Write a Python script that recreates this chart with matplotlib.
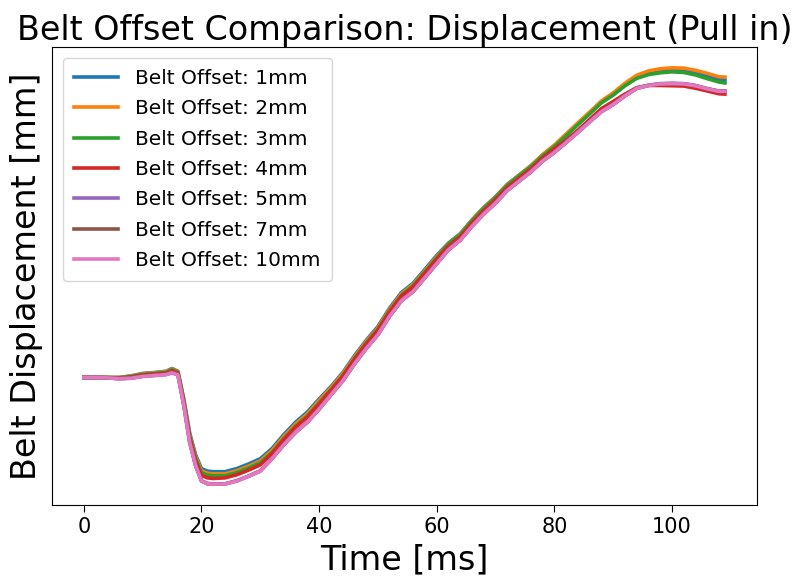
import numpy as np
import matplotlib
matplotlib.use("Agg")
import matplotlib.pyplot as plt

# time samples [ms]
time_ms = [0, 3, 6, 8, 10, 12, 14, 15, 16, 17, 18, 19, 20, 21, 22,
           24, 26, 28, 30, 32, 34, 36, 38, 40, 42, 44, 46, 48, 50, 52, 54,
           56, 58, 60, 62, 64, 66, 68, 70, 72, 74, 76, 78, 80, 82, 84, 86,
           88, 90, 92, 94, 96, 98, 100, 102, 104, 106, 108, 109]

offsets = ["1mm", "2mm", "3mm", "4mm", "5mm", "7mm", "10mm"]

# belt displacement [mm]
disp_1mm = [0, 0, 0, 0.5, 1.3, 1.6, 2.0, 2.9, 2.0, -7.0, -18.0, -25.0, -29.5, -30.3, -30.5,
            -30.5, -29.5, -28.0, -26.3, -23.0, -18.5, -14.5, -11.2, -7.0, -3.0, 1.5, 7.0, 12.0, 16.5, 22.5, 27.5,
            30.5, 35.0, 39.5, 43.5, 46.5, 51.0, 55.0, 58.5, 62.5, 65.5, 68.5, 72.0, 75.0, 78.5, 82.0, 85.5,
            89.0, 91.5, 94.5, 97.0, 98.3, 99.0, 99.3, 99.2, 98.5, 97.5, 96.5, 96.3]
disp_2mm = [0, 0, 0, 0.4, 1.2, 1.5, 1.9, 2.7, 1.9, -7.3, -18.5, -25.6, -30.2, -31.0, -31.2,
            -31.2, -30.2, -28.7, -27.0, -23.6, -19.1, -15.1, -11.8, -7.5, -3.4, 1.1, 6.6, 11.6, 16.1, 22.1, 27.1,
            30.1, 34.6, 39.1, 43.3, 46.4, 50.9, 54.9, 58.4, 62.4, 65.4, 68.5, 72.1, 75.2, 78.8, 82.4, 85.9,
            89.5, 92.1, 95.2, 97.8, 99.2, 99.9, 100.2, 100.1, 99.4, 98.4, 97.3, 97.2]
disp_3mm = [0, 0, -0.1, 0.3, 1.0, 1.3, 1.7, 2.5, 1.7, -7.6, -19.0, -26.2, -30.8, -31.6, -31.8,
            -31.8, -30.8, -29.3, -27.6, -24.3, -19.8, -15.8, -12.5, -8.3, -4.0, 0.5, 6.1, 11.1, 15.6, 21.6, 26.6,
            29.7, 34.2, 38.7, 43.2, 46.2, 50.7, 54.7, 58.2, 62.2, 65.2, 68.2, 71.7, 74.7, 78.2, 81.8, 85.3,
            88.9, 91.4, 94.4, 96.8, 98.0, 98.6, 98.9, 98.7, 97.9, 96.7, 95.6, 95.3]
disp_4mm = [0, 0, -0.2, 0.1, 0.8, 1.1, 1.4, 2.2, 1.4, -8.0, -19.6, -27.0, -31.7, -32.5, -32.7,
            -32.5, -31.5, -30.0, -28.3, -24.6, -20.1, -16.1, -12.8, -8.6, -4.2, 0.3, 5.8, 10.8, 15.3, 21.3, 26.3,
            29.3, 33.8, 38.3, 42.5, 45.5, 50.0, 54.0, 57.5, 61.5, 64.5, 67.5, 71.0, 74.0, 76.8, 80.0, 83.5,
            87.0, 89.3, 91.7, 93.8, 94.5, 94.5, 94.4, 94.3, 93.6, 92.7, 91.8, 91.7]
disp_5mm = [0, 0, -0.4, -0.2, 0.4, 0.7, 1.0, 1.6, 0.9, -8.9, -20.9, -28.4, -33.4, -34.3, -34.4,
            -34.4, -33.4, -31.9, -30.2, -26.2, -21.7, -17.7, -14.4, -10.2, -5.6, -1.1, 4.4, 9.4, 13.9, 19.9, 24.9,
            27.9, 32.4, 36.9, 41.4, 44.5, 49.0, 53.0, 56.5, 60.6, 63.6, 66.6, 70.1, 72.9, 76.1, 79.4, 82.8,
            86.1, 88.4, 91.2, 93.6, 94.6, 95.1, 95.2, 95.1, 94.5, 93.5, 92.7, 92.7]
disp_7mm = [0, 0, -0.4, -0.2, 0.4, 0.7, 1.0, 1.6, 0.9, -8.9, -20.9, -28.5, -33.5, -34.4, -34.5,
            -34.5, -33.5, -32.0, -30.3, -26.3, -21.8, -17.8, -14.5, -10.3, -5.7, -1.2, 4.3, 9.3, 13.8, 19.8, 24.8,
            27.8, 32.3, 36.8, 41.3, 44.4, 48.9, 52.9, 56.4, 60.5, 63.5, 66.5, 70.0, 72.8, 76.0, 79.3, 82.7,
            86.0, 88.3, 91.1, 93.5, 94.5, 95.0, 95.1, 95.0, 94.4, 93.4, 92.6, 92.6]
disp_10mm = [0, 0, -0.4, -0.3, 0.3, 0.6, 0.9, 1.5, 0.8, -9.0, -21.0, -28.5, -33.5, -34.4, -34.5,
             -34.5, -33.5, -32.0, -30.3, -26.3, -21.8, -17.8, -14.5, -10.3, -5.7, -1.2, 4.3, 9.3, 13.8, 19.8, 24.8,
             27.8, 32.3, 36.8, 41.3, 44.4, 48.9, 52.9, 56.4, 60.5, 63.5, 66.5, 70.0, 72.8, 76.0, 79.3, 82.7,
             86.0, 88.3, 91.1, 93.5, 94.5, 95.0, 95.1, 95.0, 94.4, 93.4, 92.6, 92.6]

all_disp = [disp_1mm, disp_2mm, disp_3mm, disp_4mm, disp_5mm, disp_7mm, disp_10mm]

fig = plt.figure(figsize=(7.96, 5.77), dpi=100)
ax = fig.add_subplot(111)
fig.subplots_adjust(left=0.065, right=0.951, bottom=0.125, top=0.9185)

for off, d in zip(offsets, all_disp):
    ax.plot(time_ms, d, lw=2.6, label=f"Belt Offset: {off}")

ax.set_title("Belt Offset Comparison: Displacement (Pull in)", fontsize=24, pad=4)
ax.set_xlabel("Time [ms]", fontsize=24, labelpad=5)
ax.set_ylabel("Belt Displacement [mm]", fontsize=24, labelpad=6)
ax.set_yticks([])
ax.tick_params(axis="x", labelsize=15, length=5)
ax.legend(loc="upper left", fontsize=14.5, labelspacing=0.56, borderaxespad=0.55,
          handlelength=2.2, handletextpad=0.85, borderpad=0.55)

fig.savefig("out.png", dpi=100)
